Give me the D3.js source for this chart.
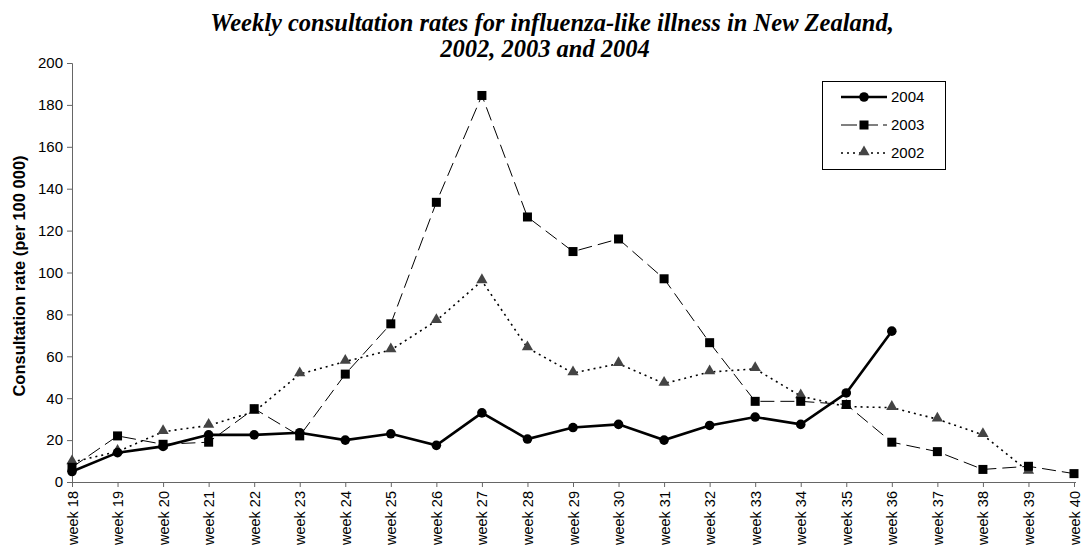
<!DOCTYPE html>
<html><head><meta charset="utf-8">
<script src="https://cdn.jsdelivr.net/npm/d3@7"></script>
<style>body{margin:0;background:#fff}svg{display:block}</style>
</head><body>
<svg id="c" width="1084" height="559"></svg>
<script>
const weeks = ["week 18","week 19","week 20","week 21","week 22","week 23","week 24","week 25","week 26","week 27","week 28","week 29","week 30","week 31","week 32","week 33","week 34","week 35","week 36","week 37","week 38","week 39","week 40"];
const rates2004 = [5,14,17,22.5,22.5,23.5,20,23,17.5,33,20.5,26,27.5,20,27,31,27.5,42.5,72];
const rates2003 = [7,22,18,19,35,22,51.5,75.5,133.5,184.5,126.5,110,116,97,66.5,38.5,38.5,37,19,14.5,6,7.5,4];
const rates2002 = [9.5,14.5,24,27,33.5,51.5,57.5,63,77,96,64,52,56.5,47,52.5,54,41,36,35.5,30,22.5,5];
const yTicks = [0,20,40,60,80,100,120,140,160,180,200];

const svg = d3.select("#c");
const x = d3.scalePoint().domain(weeks).range([72, 1074]);
const y = d3.scaleLinear().domain([0,200]).range([482, 63]);

// title
const t = svg.append("text").attr("text-anchor","middle")
  .style("font-family","'Liberation Serif','Times New Roman',serif")
  .style("font-weight","bold").style("font-style","italic").style("font-size","24.5px");
t.append("tspan").attr("x",552).attr("y",31).text("Weekly consultation rates for influenza-like illness in New Zealand,");
t.append("tspan").attr("x",545).attr("y",57).text("2002, 2003 and 2004");

// axes
const yAxis = svg.append("g").attr("transform","translate(72,0)")
  .call(d3.axisLeft(y).tickValues(yTicks).tickSize(5).tickPadding(4));
yAxis.selectAll("text").style("font-family","'Liberation Sans',Arial,sans-serif").style("font-size","15px").attr("fill","#000");
yAxis.selectAll("line,path").attr("stroke","#666");

const xAxis = svg.append("g").attr("transform","translate(0,482)")
  .call(d3.axisBottom(x).tickSize(5).tickSizeOuter(0));
xAxis.select("path").attr("d","M68,0.5H1076");
xAxis.selectAll("line,path").attr("stroke","#666");
xAxis.selectAll("text").style("font-family","'Liberation Sans',Arial,sans-serif").style("font-size","14.5px").attr("fill","#000")
  .attr("transform","rotate(-90)").attr("text-anchor","end").attr("x",-9).attr("y",0).attr("dy","0.35em");

svg.append("text").attr("transform","translate(25,276) rotate(-90)").attr("text-anchor","middle")
  .style("font-family","'Liberation Sans',Arial,sans-serif").style("font-weight","bold").style("font-size","16.5px")
  .text("Consultation rate (per 100 000)");

const line = d3.line().x((d,i)=>x(weeks[i])).y(d=>y(d));
const tri = d3.symbol().type(d3.symbolTriangle).size(55);

// 2002
svg.append("path").attr("d",line(rates2002)).attr("fill","none").attr("stroke","#000").attr("stroke-width",1.6).attr("stroke-dasharray","2,4");
svg.append("g").selectAll("path").data(rates2002).join("path")
  .attr("d",tri).attr("transform",(d,i)=>`translate(${x(weeks[i])},${y(d)-1})`).attr("fill","#444");
// 2003
svg.append("path").attr("d",line(rates2003)).attr("fill","none").attr("stroke","#000").attr("stroke-width",1).attr("stroke-dasharray","14,6");
svg.append("g").selectAll("rect").data(rates2003).join("rect")
  .attr("x",(d,i)=>x(weeks[i])-4.5).attr("y",d=>y(d)-4.5).attr("width",9).attr("height",9).attr("fill","#000");
// 2004
svg.append("path").attr("d",line(rates2004)).attr("fill","none").attr("stroke","#000").attr("stroke-width",2.6);
svg.append("g").selectAll("circle").data(rates2004).join("circle")
  .attr("cx",(d,i)=>x(weeks[i])).attr("cy",d=>y(d)).attr("r",4.8).attr("fill","#000");

// legend
const lg = svg.append("g");
lg.append("rect").attr("x",822.5).attr("y",81.5).attr("width",123).attr("height",88).attr("fill","#fff").attr("stroke","#000");
const items = [
  {label:"2004", w:2.6, dash:null, mark:"c"},
  {label:"2003", w:1, dash:"16,5", mark:"s"},
  {label:"2002", w:1.6, dash:"2,4", mark:"t"}
];
items.forEach((it,i)=>{
  const yy = 97 + i*28;
  lg.append("line").attr("x1",841).attr("x2",887).attr("y1",yy).attr("y2",yy).attr("stroke","#000").attr("stroke-width",it.w).attr("stroke-dasharray",it.dash);
  if(it.mark==="c") lg.append("circle").attr("cx",864).attr("cy",yy).attr("r",4.8);
  if(it.mark==="s") lg.append("rect").attr("x",859.5).attr("y",yy-4.5).attr("width",9).attr("height",9);
  if(it.mark==="t") lg.append("path").attr("d",tri).attr("transform",`translate(864,${yy-1})`).attr("fill","#444");
  lg.append("text").attr("x",891).attr("y",yy).attr("dy","0.36em").style("font-family","'Liberation Sans',Arial,sans-serif").style("font-size","15px").text(it.label);
});
</script>
</body></html>
